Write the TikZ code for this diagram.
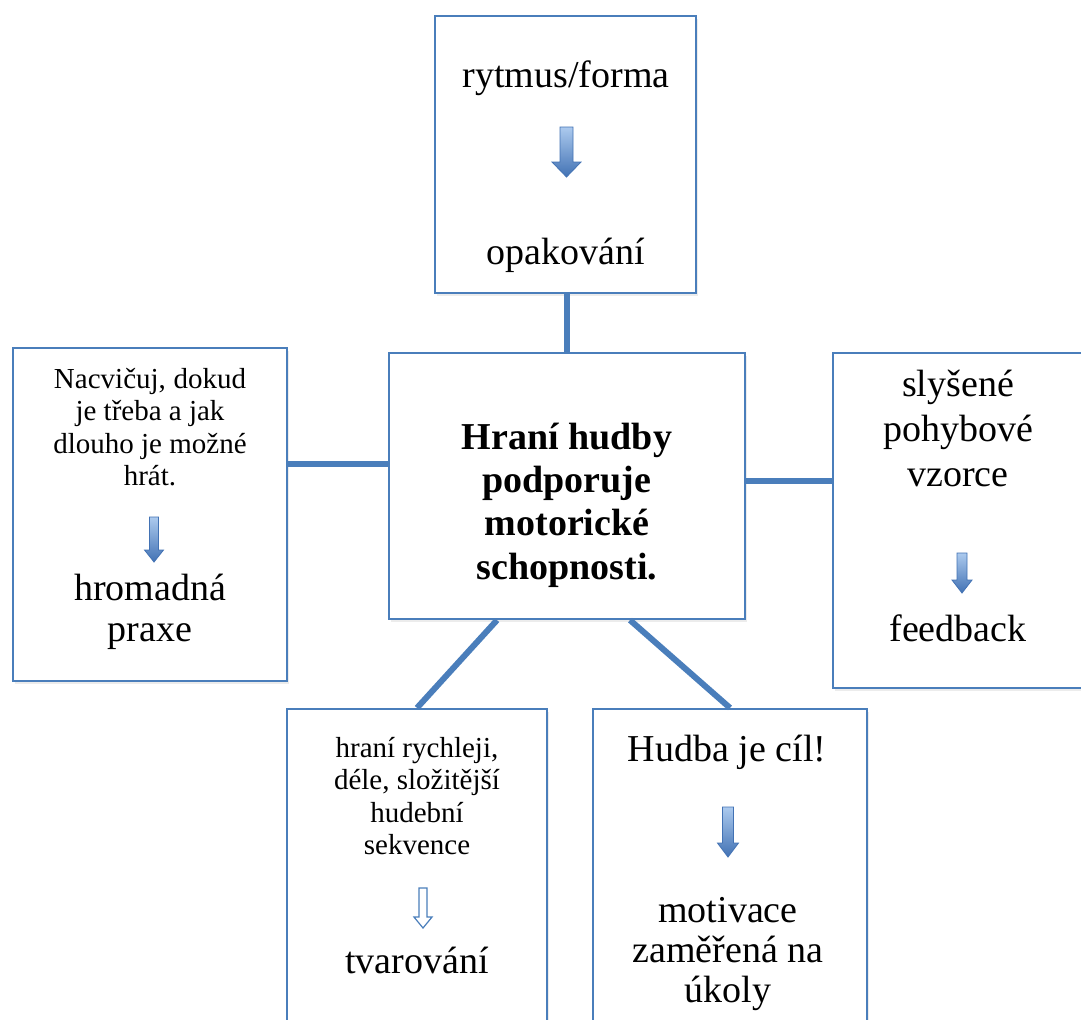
\documentclass[tikz,border=0pt]{standalone}
\usepackage{fontspec}
\setmainfont{Liberation Serif}
\usetikzlibrary{positioning, shadows}
\definecolor{BoxBlue}{RGB}{74,126,187}
\definecolor{ArrowLight}{RGB}{172,202,238}
\definecolor{ArrowDark}{RGB}{66,114,180}
\tikzset{
  % riquadri
  box/.style={draw=BoxBlue, line width=1.1pt, fill=white, inner sep=0pt,
    drop shadow={shadow xshift=1pt, shadow yshift=-1.5pt, opacity=0.15}},
  % testi
  big/.style={font=\fontsize{19}{20.5}\selectfont, align=center, inner sep=0pt},
  small/.style={font=\fontsize{14.5}{16.2}\selectfont, align=center, inner sep=0pt},
  title/.style={big, font=\fontsize{19}{21.7}\selectfont\bfseries},
  % collegamenti
  link/.style={BoxBlue, line width=3pt},
  % frecce
  arrow full/.style={draw=ArrowDark, line width=0.4pt, top color=ArrowLight, bottom color=ArrowDark},
  arrow hollow/.style={draw=BoxBlue, line width=0.6pt, fill=white},
  pics/blockarrow/.style args={#1/#2/#3/#4}{code={
    \path[pic actions] (-#2,0) -- (#2,0) -- (#2,#1-#4) -- (#3,#1-#4) -- (0,#1)
      -- (-#3,#1-#4) -- (-#2,#1-#4) -- cycle;
  }}
}
\begin{document}
\begin{tikzpicture}[x=0.5pt, y=-0.5pt]
  \useasboundingbox (0,0) rectangle (1081,1019);
  \clip (0,0) rectangle (1081,1019);
  % riquadri
  \node[box, minimum width=130.5pt, minimum height=138.5pt] (top) at (565.5,154.5) {};
  \node[box, minimum width=178pt, minimum height=133pt] (mid) at (567,486) {};
  \node[box, minimum width=137pt, minimum height=166.5pt] (left) at (150,514.5) {};
  \node[box, minimum width=133.5pt, minimum height=167.5pt] (right) at (966.5,520.5) {};
  \node[box, minimum width=130pt, minimum height=165.5pt] (bl) at (417,874.5) {};
  \node[box, minimum width=137pt, minimum height=165.5pt] (br) at (730,874.5) {};
  % collegamenti
  \coordinate (lj) at ([yshift=11pt]mid.west);
  \coordinate (rj) at ([yshift=2.5pt]mid.east);
  \draw[link] (mid.north) -- (mid.north |- top.south);
  \draw[link] (lj) -- (lj -| left.east);
  \draw[link] (rj) -- (rj -| right.west);
  \draw[link] ([xshift=-35pt]mid.south) -- (bl.north);
  \draw[link] ([xshift=31.5pt]mid.south) -- (br.north);
  % testi e frecce
  \node[big] (rytmus) at (566,78) {rytmus/forma};
  \pic[arrow full] at (566.5,127) {blockarrow={50/6.5/14.5/15}};
  \node[big] (opak) at (566,255) {opakování};
  \node[title] (hlavni) at (567,505) {Hraní hudby\\podporuje\\motorické\\schopnosti.};
  \node[small] (nacvic) at (150,427) {\makebox[96pt][s]{Nacvičuj, dokud}\\je třeba a jak\\dlouho je možné\\hrát.};
  \pic[arrow full] at (154,517) {blockarrow={45/4.5/9.5/12}};
  \node[big] (praxe) at (150,612) {hromadná\\praxe};
  \node[big, font=\fontsize{19}{22.5}\selectfont] (slysene) at (958,428) {slyšené\\pohybové\\vzorce};
  \pic[arrow full] at (962,553) {blockarrow={40/5/10/13}};
  \node[big] (feedback) at (958,628) {feedback};
  \node[small] (hrani) at (417,796) {hraní rychleji,\\déle, složitější\\hudební\\sekvence};
  \pic[arrow hollow] at (423,888) {blockarrow={40/4/9/11}};
  \node[big] (tvar) at (417,960) {tvarování};
  \node[big] (cil) at (727,752) {Hudba je cíl!};
  \pic[arrow full] at (728,807) {blockarrow={50/5.5/10.5/14}};
  \node[big, font=\fontsize{19}{20}\selectfont] (motiv) at (728,954) {motivace\\zaměřená na\\úkoly};
\end{tikzpicture}
\end{document}
